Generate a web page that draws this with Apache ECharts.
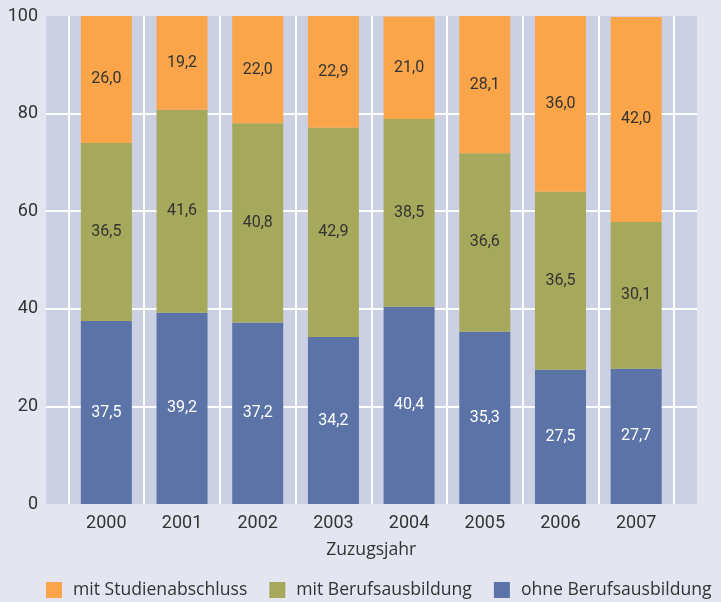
<!DOCTYPE html>
<html><head><meta charset="utf-8">
<script src="https://cdn.jsdelivr.net/npm/echarts@6/dist/echarts.min.js"></script>
<style>html,body{margin:0;padding:0;background:#e3e5f0;}#c{width:721px;height:602px;}</style>
</head><body><div id="c"></div>
<script>
var categories = ['2000','2001','2002','2003','2004','2005','2006','2007'];
var ohneBerufsausbildung = [37.5, 39.2, 37.2, 34.2, 40.4, 35.3, 27.5, 27.7];
var mitBerufsausbildung = [36.5, 41.6, 40.8, 42.9, 38.5, 36.6, 36.5, 30.1];
var mitStudienabschluss = [26.0, 19.2, 22.0, 22.9, 21.0, 28.1, 36.0, 42.0];
var yTicks = [0, 20, 40, 60, 80, 100];
var seriesNames = ['mit Studienabschluss', 'mit Berufsausbildung', 'ohne Berufsausbildung'];

var chart = echarts.init(document.getElementById('c'), null, {renderer: 'canvas'});
function fmt(p){ return p.value.toFixed(1).replace('.', ','); }
var font = 'Roboto';
chart.setOption({
  backgroundColor: '#e3e5f0',
  animation: false,
  legend: {
    data: seriesNames,
    left: 46, right: 0, bottom: 3, padding: 0,
    itemWidth: 16, itemHeight: 16, itemGap: 22,
    icon: 'rect',
    textStyle: {fontFamily: 'Open Sans', fontSize: 17.6, color: '#333', padding: [0,0,0,6]}
  },
  grid: [
    {left: 46, right: 24, top: 16, bottom: 98, show: true, backgroundColor: '#cbd0e3', borderWidth: 0},
    {left: 68.5, right: 47, top: 16, bottom: 98}
  ],
  xAxis: [
    {gridIndex: 0, type: 'value', min: 0, max: 1, show: false},
    {gridIndex: 1, type: 'category', data: categories,
     name: 'Zuzugsjahr', nameLocation: 'middle', nameGap: 37,
     nameTextStyle: {fontFamily: 'Open Sans', fontSize: 17.6, color: '#333'},
     axisLine: {show: false}, axisTick: {show: false},
     axisLabel: {fontFamily: font, fontSize: 18, color: '#333', margin: 10},
     splitLine: {show: true, lineStyle: {color: '#ffffff', width: 2}}}
  ],
  yAxis: [
    {gridIndex: 0, type: 'value', min: 0, max: 100, interval: 20,
     axisLine: {show: false}, axisTick: {show: false},
     axisLabel: {fontFamily: font, fontSize: 18, color: '#333', margin: 8},
     splitLine: {show: true, lineStyle: {color: ['transparent','#ffffff','#ffffff','#ffffff','#ffffff','transparent'], width: 2}}},
    {gridIndex: 1, type: 'value', min: 0, max: 100, show: false}
  ],
  series: [
    {name: seriesNames[2], type: 'bar', stack: 's', xAxisIndex: 1, yAxisIndex: 1, barWidth: 51,
     data: ohneBerufsausbildung, itemStyle: {color: '#5b73a7'},
     label: {show: true, position: 'inside', formatter: fmt, fontFamily: font, fontSize: 16, color: '#ffffff'}},
    {name: seriesNames[1], type: 'bar', stack: 's', xAxisIndex: 1, yAxisIndex: 1, barWidth: 51,
     data: mitBerufsausbildung, itemStyle: {color: '#a6a95b'},
     label: {show: true, position: 'inside', formatter: fmt, fontFamily: font, fontSize: 16, color: '#333'}},
    {name: seriesNames[0], type: 'bar', stack: 's', xAxisIndex: 1, yAxisIndex: 1, barWidth: 51,
     data: mitStudienabschluss, itemStyle: {color: '#fba54a'},
     label: {show: true, position: 'inside', formatter: fmt, fontFamily: font, fontSize: 16, color: '#333'}}
  ]
});
</script></body></html>
